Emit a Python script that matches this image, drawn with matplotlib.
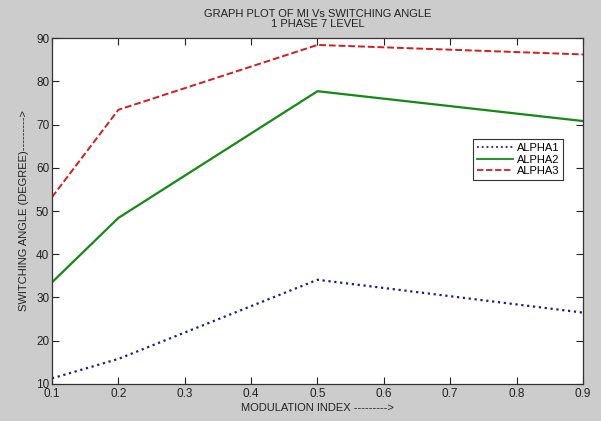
import matplotlib
matplotlib.use("Agg")
import matplotlib.pyplot as plt

# values
mod_index = [0.1, 0.2, 0.5, 0.9]
alpha1 = [11.3, 15.8, 34.1, 26.5]
alpha2 = [33.5, 48.4, 77.7, 70.8]
alpha3 = [53.2, 73.4, 88.4, 86.2]
x_ticks = [0.1, 0.2, 0.3, 0.4, 0.5, 0.6, 0.7, 0.8, 0.9]
y_ticks = [10, 20, 30, 40, 50, 60, 70, 80, 90]

plt.rcParams["font.family"] = ["Liberation Sans", "DejaVu Sans"]

fig = plt.figure(figsize=(6.01, 4.21), dpi=100, facecolor="#cccccc")
ax = fig.add_axes([0.0865, 0.0879, 0.8835, 0.8218])
ax.set_facecolor("white")

ax.plot(mod_index, alpha1, ":", color="#1c1c8a", lw=1.6, label="ALPHA1")
ax.plot(mod_index, alpha2, "-", color="#138a13", lw=1.6, label="ALPHA2")
ax.plot(mod_index, alpha3, "--", color="#d41c1c", lw=1.4, dashes=(3.5, 1.5), label="ALPHA3")

ax.set_xlim(0.1, 0.9)
ax.set_ylim(10, 90)
ax.set_xticks(x_ticks)
ax.set_yticks(y_ticks)
ax.tick_params(direction="in", length=5, width=0.8, top=True, right=True,
               labelsize=8.5, colors="#222222", pad=2)
ax.tick_params(axis="x", pad=3)
for s in ax.spines.values():
    s.set_color("#333333")
    s.set_linewidth(0.9)

ax.set_title("GRAPH PLOT OF MI Vs SWITCHING ANGLE\n1 PHASE 7 LEVEL",
             fontsize=8, color="#222222", pad=8, linespacing=1.05)
ax.set_xlabel("MODULATION INDEX --------->", fontsize=8, color="#222222", labelpad=2)
ax.set_ylabel("SWITCHING ANGLE (DEGREE)--------->", fontsize=8, color="#222222", labelpad=5)

leg = ax.legend(loc="upper left", bbox_to_anchor=(0.793, 0.708), fontsize=8,
                fancybox=False, framealpha=1, edgecolor="#333333",
                handlelength=3.2, handletextpad=0.4, borderpad=0.35,
                labelspacing=0.15, borderaxespad=0)
leg.get_frame().set_linewidth(0.8)
for line in leg.get_lines():
    line.set_linewidth(1.3)

fig.savefig("out.png", dpi=100, facecolor=fig.get_facecolor())
